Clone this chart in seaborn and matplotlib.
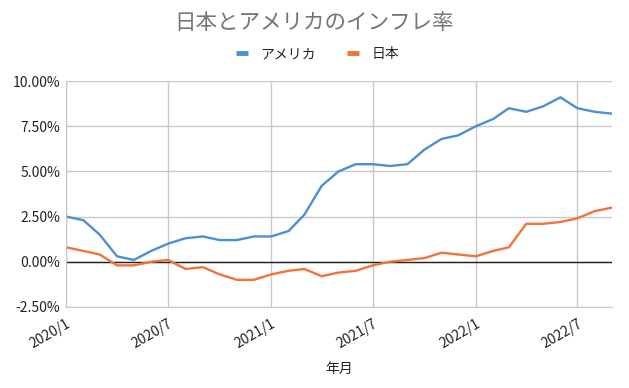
import numpy as np
import pandas as pd
import matplotlib
matplotlib.use("Agg")
import matplotlib.pyplot as plt
import matplotlib.dates as mdates
from matplotlib.ticker import FuncFormatter, MultipleLocator
import seaborn as sns

# ── Data ──────────────────────────────────────────────────────────────────────
months = pd.date_range("2020-01-01", "2022-09-01", freq="MS")
us = [2.5, 2.3, 1.5, 0.3, 0.1, 0.6, 1.0, 1.3, 1.4, 1.2, 1.2, 1.4,
      1.4, 1.7, 2.6, 4.2, 5.0, 5.4, 5.4, 5.3, 5.4, 6.2, 6.8, 7.0,
      7.5, 7.9, 8.5, 8.3, 8.6, 9.1, 8.5, 8.3, 8.2]
japan = [0.8, 0.6, 0.4, -0.2, -0.2, 0.0, 0.1, -0.4, -0.3, -0.7, -1.0, -1.0,
         -0.7, -0.5, -0.4, -0.8, -0.6, -0.5, -0.2, 0.0, 0.1, 0.2, 0.5, 0.4,
         0.3, 0.6, 0.8, 2.1, 2.1, 2.2, 2.4, 2.8, 3.0]
series_names = ["アメリカ", "日本"]
colors = ["#4a90d2", "#f2733a"]

df = pd.DataFrame({"年月": months, "アメリカ": us, "日本": japan})
long = df.melt(id_vars="年月", var_name="国", value_name="率")

# ── Plot ──────────────────────────────────────────────────────────────────────
sns.set_style("white")
plt.rcParams["font.family"] = ["Noto Sans CJK JP", "DejaVu Sans"]

fig = plt.figure(figsize=(6.29, 3.88), dpi=100)
ax = fig.add_axes([0.105, 0.209, 0.868, 0.582])

sns.lineplot(data=long, x="年月", y="率", hue="国", hue_order=series_names,
             palette=colors, linewidth=1.7, ax=ax, legend=False)

ax.axhline(0, color="#222222", linewidth=1, zorder=1)
ax.set_xlim(months[0], months[-1])
ax.set_ylim(-2.5, 10)
ax.yaxis.set_major_locator(MultipleLocator(2.5))
ax.yaxis.set_major_formatter(FuncFormatter(lambda v, p: f"{v:.2f}%"))
ax.xaxis.set_major_locator(mdates.MonthLocator(bymonth=[1, 7]))
ax.xaxis.set_major_formatter(FuncFormatter(
    lambda v, p: f"{mdates.num2date(v).year}/{mdates.num2date(v).month}"))

ax.grid(True, color="#c8c8c8", linewidth=1)
ax.set_axisbelow(True)
for side in ["top", "right"]:
    ax.spines[side].set_visible(False)
for side in ["left", "bottom"]:
    ax.spines[side].set_color("#c8c8c8")
ax.tick_params(axis="both", length=0, labelsize=10, colors="#222222")
ax.tick_params(axis="y", pad=4)
ax.tick_params(axis="x", pad=7)
plt.setp(ax.get_xticklabels(), rotation=30, ha="right", rotation_mode="anchor")

ax.set_xlabel("年月", fontsize=10, color="#222222", labelpad=8)
ax.set_ylabel("")

fig.suptitle("日本とアメリカのインフレ率", y=0.97, fontsize=15.5, color="#757575")

handles = [plt.Line2D([], [], color=c, linewidth=3.5, solid_capstyle="butt")
           for c in colors]
fig.legend(handles, series_names, loc="center", bbox_to_anchor=(0.505, 0.86),
           ncol=2, frameon=False, fontsize=10, handlelength=0.9,
           columnspacing=2.2, handletextpad=0.9)

fig.savefig("out.png", dpi=100)
